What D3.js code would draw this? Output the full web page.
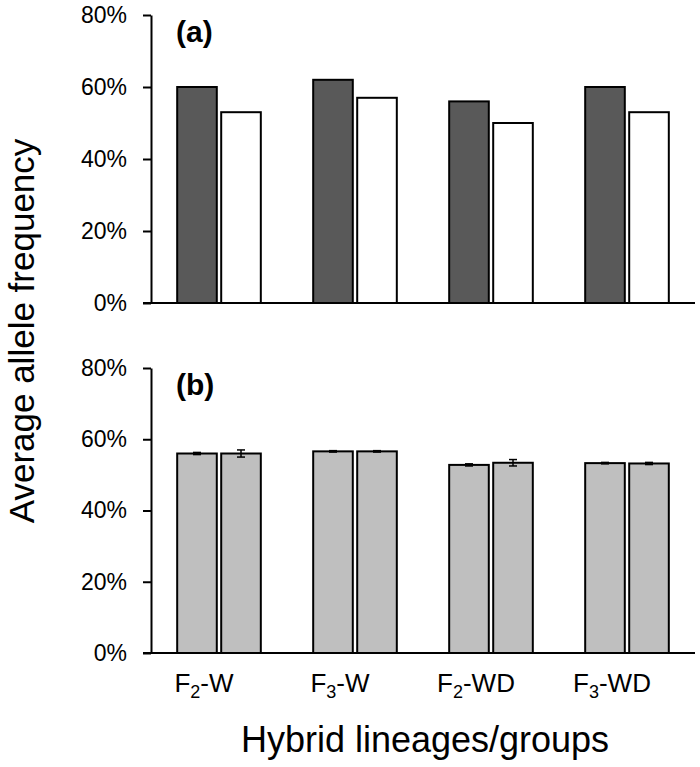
<!DOCTYPE html>
<html>
<head>
<meta charset="utf-8">
<script src="https://cdn.jsdelivr.net/npm/d3@7"></script>
<style>
  html, body { margin: 0; padding: 0; background: #fff; }
  svg { display: block; }
  text { font-family: "Liberation Sans", Arial, sans-serif; fill: #000; }
</style>
</head>
<body>
<svg id="chart" width="700" height="767"></svg>
<script>
// ---- data ----
const categories = ["F2-W", "F3-W", "F2-WD", "F3-WD"];
const categoryMain = ["F", "F", "F", "F"];
const categorySub = ["2", "3", "2", "3"];
const categoryTail = ["-W", "-W", "-WD", "-WD"];
const tickValues = [0, 0.2, 0.4, 0.6, 0.8];

// panel (a)
const panelA_series1 = [0.60, 0.62, 0.56, 0.60];
const panelA_series2 = [0.53, 0.57, 0.50, 0.53];
// panel (b)
const panelB_series1 = [0.560, 0.566, 0.528, 0.533];
const panelB_series2 = [0.560, 0.566, 0.534, 0.532];
const panelB_err1 = [0.003, 0.002, 0.003, 0.002];
const panelB_err2 = [0.010, 0.002, 0.009, 0.003];

const panelLabels = ["(a)", "(b)"];
const yTitle = "Average allele frequency";
const xTitle = "Hybrid lineages/groups";

// ---- layout ----
const svg = d3.select("#chart");
const left = 151, right = 695;
const panels = [
  { top: 15, bottom: 303, s1: panelA_series1, s2: panelA_series2, e1: null, e2: null,
    c1: "#595959", c2: "#ffffff", label: panelLabels[0] },
  { top: 368, bottom: 653, s1: panelB_series1, s2: panelB_series2, e1: panelB_err1, e2: panelB_err2,
    c1: "#bfbfbf", c2: "#bfbfbf", label: panelLabels[1] }
];

const x = d3.scaleBand().domain(categories).range([left, right]).paddingInner(0).paddingOuter(0);
const x1 = d3.scaleBand().domain(["s1", "s2"]).range([0, x.bandwidth()])
  .paddingInner(0.1).paddingOuter(0.595);

panels.forEach(p => {
  const y = d3.scaleLinear().domain([0, 0.8]).range([p.bottom, p.top]);
  const g = svg.append("g");

  // bars
  const rows = categories.map((c, i) => ({ c, i }));
  [["s1", p.s1, p.c1, p.e1], ["s2", p.s2, p.c2, p.e2]].forEach(([key, vals, col, errs]) => {
    g.selectAll("rect." + key).data(rows).enter().append("rect")
      .attr("x", d => x(d.c) + x1(key))
      .attr("y", d => y(vals[d.i]))
      .attr("width", x1.bandwidth())
      .attr("height", d => y(0) - y(vals[d.i]))
      .attr("fill", col)
      .attr("stroke", "#000")
      .attr("stroke-width", 2);
    if (errs) {
      const cx = d => x(d.c) + x1(key) + x1.bandwidth() / 2;
      g.selectAll("line.ev" + key).data(rows).enter().append("line")
        .attr("x1", cx).attr("x2", cx)
        .attr("y1", d => y(vals[d.i] - errs[d.i]))
        .attr("y2", d => y(vals[d.i] + errs[d.i]))
        .attr("stroke", "#000").attr("stroke-width", 1.5);
      [-1, 1].forEach(sgn => {
        g.selectAll("line.ec" + key + sgn).data(rows).enter().append("line")
          .attr("x1", d => cx(d) - 4).attr("x2", d => cx(d) + 4)
          .attr("y1", d => y(vals[d.i] + sgn * errs[d.i]))
          .attr("y2", d => y(vals[d.i] + sgn * errs[d.i]))
          .attr("stroke", "#000").attr("stroke-width", 1.5);
      });
    }
  });

  // y axis
  const ax = g.append("g").attr("transform", `translate(${left},0)`)
    .call(d3.axisLeft(y).tickValues(tickValues).tickFormat(d3.format(".0%"))
      .tickSize(8).tickSizeOuter(0).tickPadding(16));
  ax.selectAll("path, line").attr("stroke", "#000").attr("stroke-width", 2);
  ax.selectAll("text").attr("font-size", 23).attr("font-family", "'Liberation Sans', Arial, sans-serif");

  // x baseline
  g.append("line")
    .attr("x1", left - 8).attr("x2", right)
    .attr("y1", y(0)).attr("y2", y(0))
    .attr("stroke", "#000").attr("stroke-width", 2);

  // panel label
  g.append("text")
    .attr("x", 176).attr("y", p.top + 27)
    .attr("font-family", "'Open Sans', sans-serif")
    .attr("font-weight", 700).attr("font-size", 30)
    .text(p.label);
});

// x tick labels (bottom panel)
const xl = svg.append("g");
categories.forEach((c, i) => {
  const t = xl.append("text")
    .attr("x", x(c) + x.bandwidth() / 2 - 15)
    .attr("y", 692)
    .attr("text-anchor", "middle")
    .attr("font-size", 26);
  t.append("tspan").text(categoryMain[i]);
  t.append("tspan").attr("font-size", 18).attr("dy", 6).text(categorySub[i]);
  t.append("tspan").attr("dy", -6).text(categoryTail[i]);
});

// axis titles
svg.append("text")
  .attr("transform", `translate(34,331) rotate(-90)`)
  .attr("text-anchor", "middle")
  .attr("font-size", 35)
  .text(yTitle);

svg.append("text")
  .attr("x", 425)
  .attr("y", 752)
  .attr("text-anchor", "middle")
  .attr("font-size", 36)
  .text(xTitle);
</script>
</body>
</html>
